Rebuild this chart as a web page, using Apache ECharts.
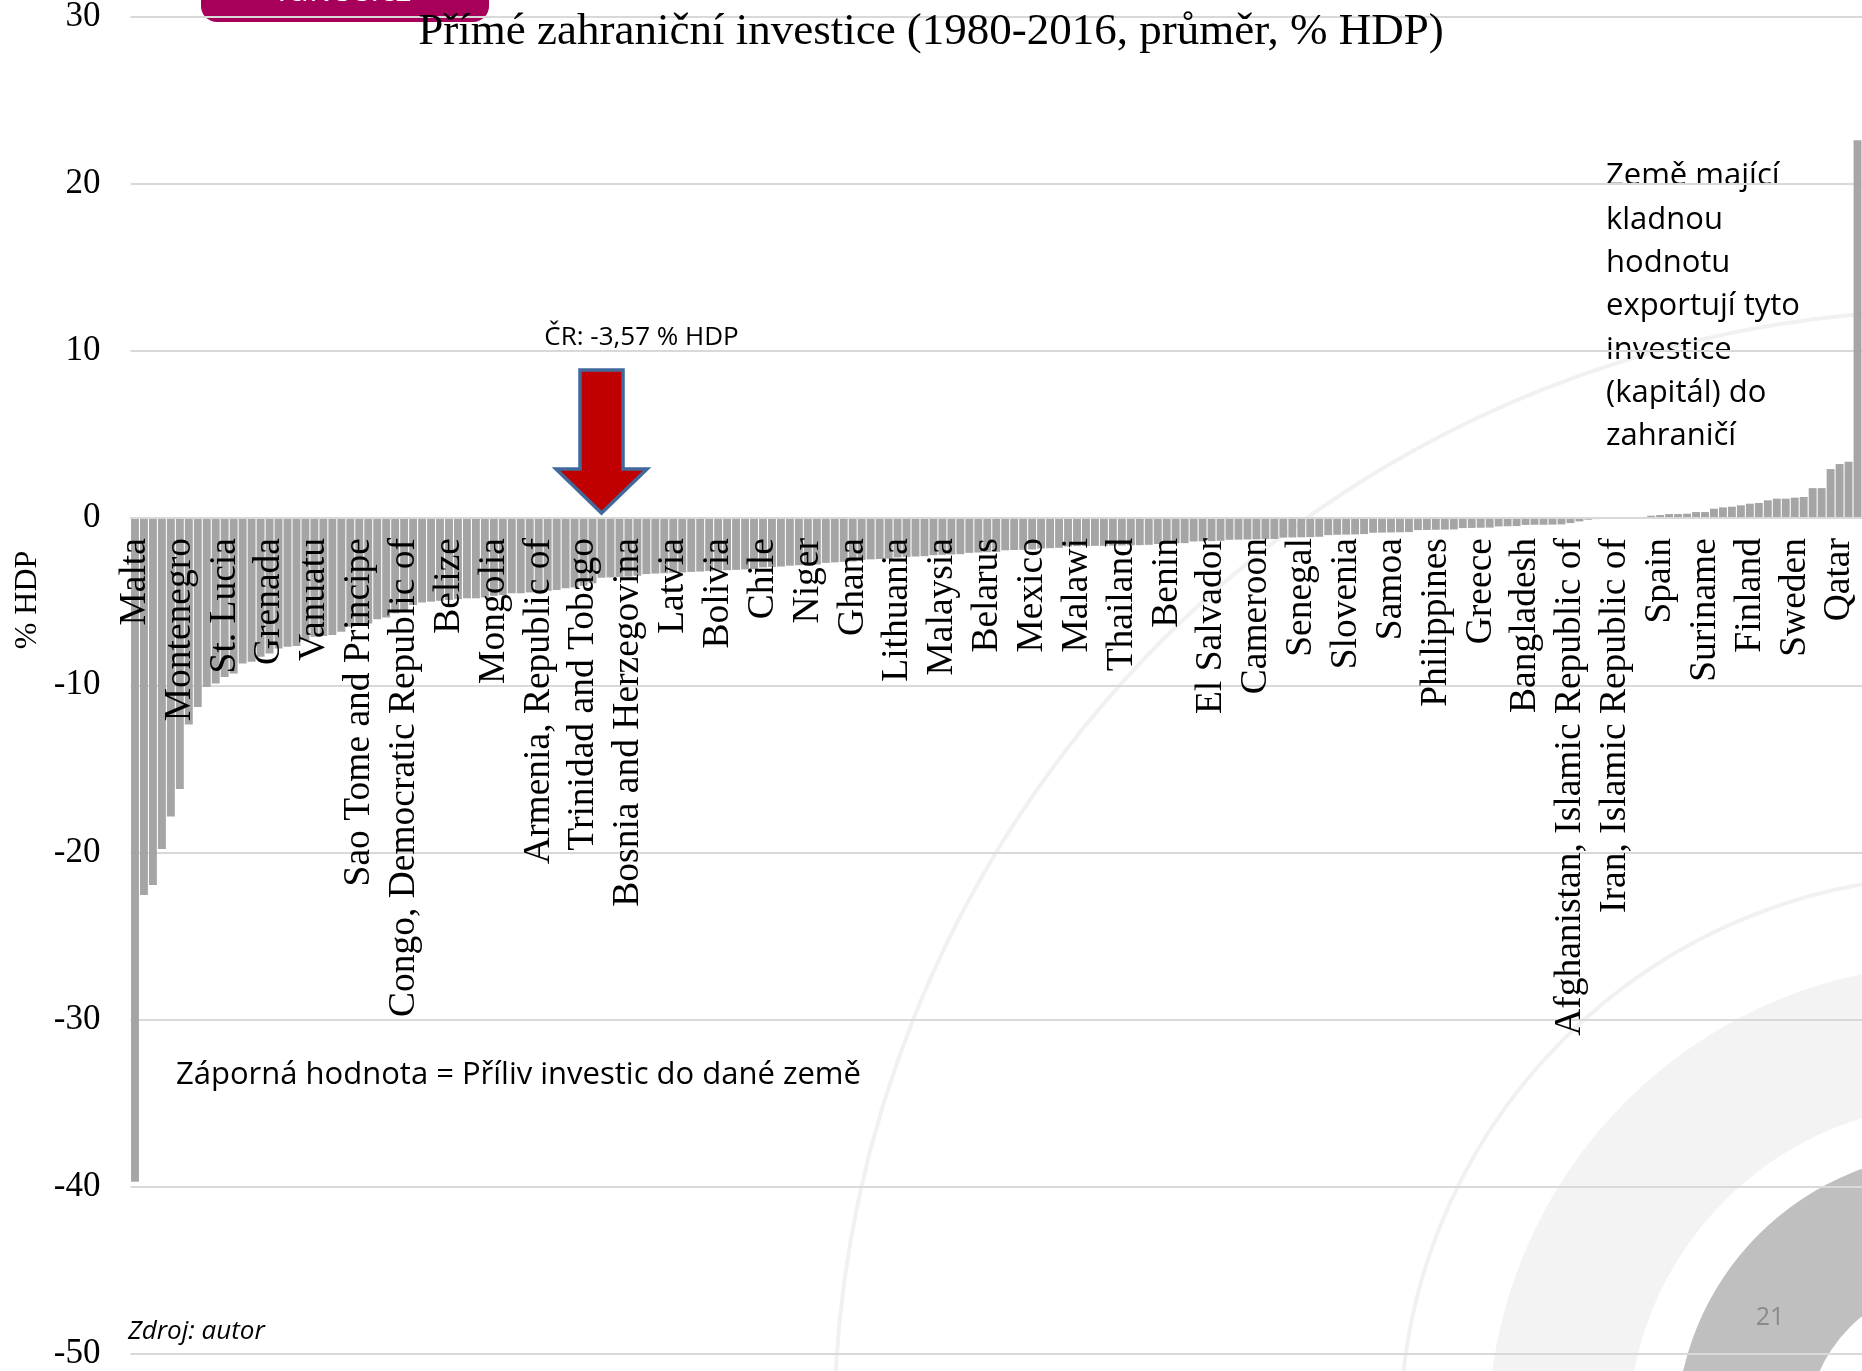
<!DOCTYPE html>
<html>
<head>
<meta charset="utf-8">
<script src="https://cdn.jsdelivr.net/npm/echarts@6/dist/echarts.min.js"></script>
<style>
  html, body { margin: 0; padding: 0; background: #ffffff; }
  #chart { width: 1862px; height: 1371px; }
</style>
</head>
<body>
<div id="chart"></div>
<script>
// Country names printed on the axis (every fifth country of the ranking)
const tickLabels = [
  'Malta', 'Montenegro', 'St. Lucia', 'Grenada', 'Vanuatu',
  'Sao Tome and Principe', 'Congo, Democratic Republic of', 'Belize', 'Mongolia',
  'Armenia, Republic of', 'Trinidad and Tobago', 'Bosnia and Herzegovina', 'Latvia',
  'Bolivia', 'Chile', 'Niger', 'Ghana', 'Lithuania', 'Malaysia', 'Belarus', 'Mexico',
  'Malawi', 'Thailand', 'Benin', 'El Salvador', 'Cameroon', 'Senegal', 'Slovenia',
  'Samoa', 'Philippines', 'Greece', 'Bangladesh', 'Afghanistan, Islamic Republic of',
  'Iran, Islamic Republic of', 'Spain', 'Suriname', 'Finland', 'Sweden', 'Qatar'
];
const labelStep = 5;

// Net FDI, average 1980-2016, % of GDP, sorted ascending
const fdiShare = [
  -39.7, -22.55, -21.95, -19.8, -17.85, -16.2, -12.35, -11.3, -10.1, -9.9,
  -9.5, -9.3, -8.7, -8.6, -8.3, -8.1, -7.8, -7.7, -7.65, -7.3,
  -7.1, -7.05, -7.0, -6.8, -6.5, -6.4, -6.3, -6.05, -5.95, -5.7,
  -5.5, -5.2, -5.05, -5.0, -4.95, -4.9, -4.85, -4.8, -4.8, -4.75,
  -4.65, -4.6, -4.5, -4.5, -4.45, -4.4, -4.35, -4.3, -4.2, -4.15,
  -4.05, -3.9, -3.57, -3.55, -3.52, -3.5, -3.45, -3.35, -3.32, -3.3,
  -3.28, -3.25, -3.22, -3.2, -3.17, -3.15, -3.12, -3.1, -3.07, -3.05,
  -2.95, -2.92, -2.9, -2.85, -2.82, -2.8, -2.78, -2.68, -2.65, -2.62,
  -2.6, -2.5, -2.47, -2.45, -2.43, -2.35, -2.32, -2.3, -2.28, -2.22,
  -2.2, -2.18, -2.16, -2.08, -2.06, -2.04, -2.02, -1.93, -1.91, -1.9,
  -1.88, -1.82, -1.8, -1.78, -1.7, -1.68, -1.67, -1.66, -1.66, -1.65,
  -1.64, -1.63, -1.62, -1.6, -1.55, -1.53, -1.51, -1.5, -1.4, -1.39,
  -1.38, -1.36, -1.3, -1.29, -1.28, -1.27, -1.26, -1.25, -1.17, -1.16,
  -1.15, -1.14, -1.12, -1.02, -1.0, -0.99, -0.98, -0.96, -0.88, -0.87,
  -0.86, -0.85, -0.84, -0.72, -0.71, -0.7, -0.69, -0.68, -0.6, -0.59,
  -0.58, -0.57, -0.5, -0.49, -0.48, -0.41, -0.4, -0.4, -0.39, -0.38,
  -0.3, -0.2, -0.1, -0.06, -0.05, -0.04, -0.04, -0.02, 0.02, 0.14,
  0.18, 0.24, 0.24, 0.26, 0.36, 0.36, 0.56, 0.64, 0.68, 0.76,
  0.86, 0.9, 1.06, 1.16, 1.16, 1.22, 1.26, 1.79, 1.79, 2.93,
  3.23, 3.37, 22.6
];

// Position of the Czech Republic in the ranking
const czIndex = 52;

// Value axis range
const yMin = -50, yMax = 30, yStep = 10;

const categories = fdiShare.map((v, i) => (i % labelStep === 0 ? tickLabels[i / labelStep] : ''));

const serif = '"Liberation Serif", "Times New Roman", serif';
const sans = '"Open Sans", "Noto Sans", sans-serif';

// Plot area
const gridTop = 16.5, gridBottom = 17, chartHeight = 1371;
const plotHeight = chartHeight - gridTop - gridBottom;
// distance from the zero line down to the bottom edge of the plot; the country
// names hang just under the zero line, so the label margin is pulled up by it
const zeroToBottom = plotHeight * (0 - yMin) / (yMax - yMin);
const nameGap = 20;

const chart = echarts.init(document.getElementById('chart'), null, { renderer: 'canvas' });

// Slide background ornaments (concentric arcs in the lower right corner)
const ornCx = 1958, ornCy = 1434;
const ornaments = [
  { type: 'circle', z: -10, silent: true, shape: { cx: ornCx, cy: ornCy, r: 1124 },
    style: { fill: 'transparent', stroke: '#f1f1f1', lineWidth: 4 } },
  { type: 'circle', z: -10, silent: true, shape: { cx: ornCx, cy: ornCy, r: 558 },
    style: { fill: 'transparent', stroke: '#f1f1f1', lineWidth: 4 } },
  { type: 'ring', z: -10, silent: true, shape: { cx: ornCx, cy: ornCy, r: 470, r0: 330 },
    style: { fill: '#f3f3f3' } },
  { type: 'ring', z: -10, silent: true, shape: { cx: ornCx, cy: ornCy, r: 282, r0: 152 },
    style: { fill: '#bfbfbf' } }
];

// Faculty tab at the top edge of the slide
const headerTab = [
  { type: 'rect', z: -5, silent: true, shape: { x: 201, y: -40, width: 288, height: 62, r: 16 },
    style: { fill: '#a6005b' } },
  { type: 'text', z: -4, silent: true,
    style: { text: 'fu.vse.cz', x: 344, y: 8, font: '34px ' + sans, fill: '#ffffff',
             align: 'center', verticalAlign: 'bottom', textAlign: 'center', textVerticalAlign: 'bottom' } }
];

const notes = [
  { type: 'text', silent: true,
    style: { text: 'Země mající\nkladnou\nhodnotu\nexportují tyto\ninvestice\n(kapitál) do\nzahraničí',
             x: 1606, y: 155, font: '31px ' + sans, lineHeight: 43.3, fill: '#000000',
             align: 'left', verticalAlign: 'top', textAlign: 'left', textVerticalAlign: 'top' } },
  { type: 'text', silent: true,
    style: { text: 'Záporná hodnota = Příliv investic do dané země', x: 176, y: 1075,
             font: '31px ' + sans, fill: '#000000',
             align: 'left', verticalAlign: 'middle', textAlign: 'left', textVerticalAlign: 'middle' } },
  { type: 'text', silent: true,
    style: { text: 'Zdroj: autor', x: 128, y: 1332, font: 'italic 26px ' + sans, fill: '#000000',
             align: 'left', verticalAlign: 'middle', textAlign: 'left', textVerticalAlign: 'middle' } },
  { type: 'text', silent: true,
    style: { text: '21', x: 1770, y: 1318, font: '25px ' + sans, fill: '#8a8a8a',
             align: 'center', verticalAlign: 'middle', textAlign: 'center', textVerticalAlign: 'middle' } },
  { type: 'text', silent: true, rotation: Math.PI / 2,
    x: 28, y: 600,
    style: { text: '% HDP', x: 0, y: 0, font: '32px ' + serif, fill: '#000000',
             align: 'center', verticalAlign: 'middle', textAlign: 'center', textVerticalAlign: 'middle' } }
];

chart.setOption({
  animation: false,
  backgroundColor: '#ffffff',
  title: {
    text: 'Přímé zahraniční investice (1980-2016, průměr, % HDP)',
    left: 'center',
    top: 5,
    textStyle: { fontFamily: serif, fontSize: 45, fontWeight: 'normal', color: '#000000' }
  },
  grid: {
    left: 130.5, right: 0, top: gridTop, bottom: gridBottom,
    containLabel: false,
    outerBoundsMode: 'none'
  },
  xAxis: {
    type: 'category',
    data: categories,
    z: 5,
    axisLine: { show: true, onZero: true, lineStyle: { color: '#d9d9d9', width: 2 } },
    axisTick: { show: false },
    splitLine: { show: false },
    axisLabel: {
      show: true,
      interval: labelStep - 1,
      rotate: 90,
      margin: nameGap - zeroToBottom,
      fontFamily: serif,
      fontSize: 37.5,
      color: '#000000',
      hideOverlap: false
    }
  },
  yAxis: {
    type: 'value',
    min: yMin, max: yMax, interval: yStep,
    axisLine: { show: false },
    axisTick: { show: false },
    splitLine: { show: true, lineStyle: { color: '#d9d9d9', width: 2 } },
    axisLabel: { fontFamily: serif, fontSize: 35, color: '#000000', margin: 30 }
  },
  series: [{
    type: 'bar',
    data: fdiShare,
    barCategoryGap: '12%',
    itemStyle: { color: '#a5a5a5' },
    silent: true
  }],
  graphic: { elements: ornaments.concat(headerTab, notes) }
});

// Arrow and caption pointing at the Czech bar, anchored through the axes
const tip = chart.convertToPixel({ seriesIndex: 0 }, [czIndex, 0]);
const tx = tip[0], ty = tip[1] - 5;
const czText = 'ČR: ' + fdiShare[czIndex].toFixed(2).replace('.', ',') + ' % HDP';
chart.setOption({
  graphic: { elements: ornaments.concat(headerTab, notes, [
    { type: 'polygon', z: 10, silent: true,
      shape: { points: [
        [tx - 21.5, ty - 143], [tx + 21.5, ty - 143], [tx + 21.5, ty - 44], [tx + 45.5, ty - 44],
        [tx, ty], [tx - 45.5, ty - 44], [tx - 21.5, ty - 44]
      ] },
      style: { fill: '#c00000', stroke: '#41699c', lineWidth: 3.5, lineJoin: 'miter' } },
    { type: 'text', z: 10, silent: true,
      style: { text: czText, x: tx + 40, y: ty - 175, font: '26px ' + sans, fill: '#000000',
               align: 'center', verticalAlign: 'middle', textAlign: 'center', textVerticalAlign: 'middle' } }
  ]) }
});
</script>
</body>
</html>
